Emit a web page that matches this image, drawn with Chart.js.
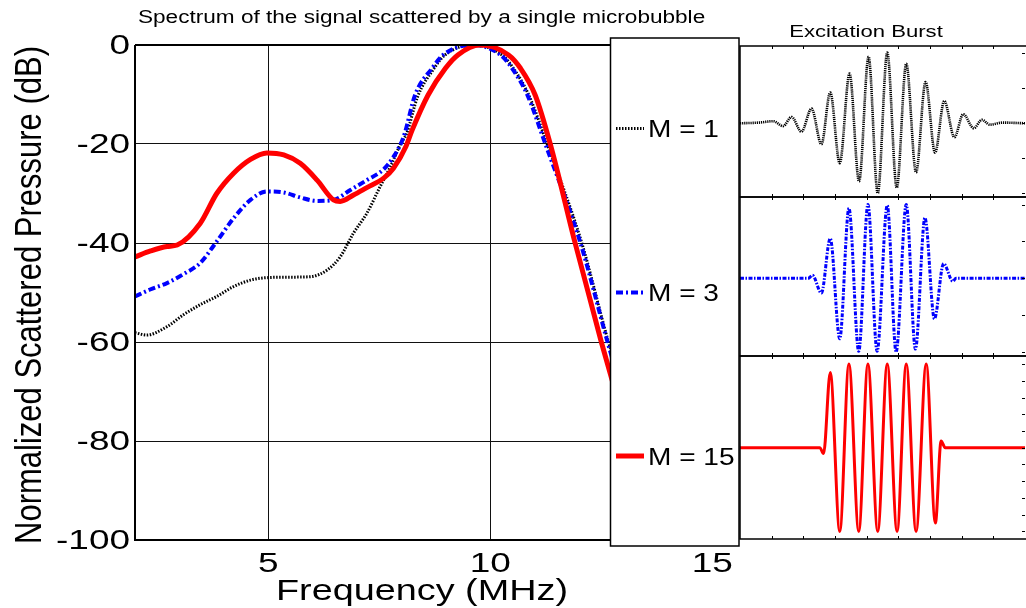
<!DOCTYPE html>
<html><head><meta charset="utf-8">
<script src="https://cdn.jsdelivr.net/npm/chart.js@4.4.1/dist/chart.umd.min.js"></script>
<style>
html,body{margin:0;padding:0;background:#fff;width:1026px;height:608px;overflow:hidden}
canvas{position:absolute;left:0;top:0}
</style></head><body>
<canvas id="main" width="1026" height="608"></canvas>
<canvas id="w1" width="1026" height="608"></canvas>
<canvas id="w2" width="1026" height="608"></canvas>
<canvas id="w3" width="1026" height="608"></canvas>
<script>
// ---------- spectrum data (frequency MHz, normalized dB) ----------
const freqM1 = [2.0, 2.26, 2.72, 3.09, 3.46, 3.84, 4.22, 4.6, 4.97, 5.5, 5.95, 6.32, 6.62, 6.92, 7.22, 7.52, 7.75, 7.97, 8.12, 8.36, 8.72, 8.97, 9.62, 10.26, 10.52, 10.86, 11.28, 12.06, 12.66, 12.8];
const dbM1   = [-58.1, -58.6, -56.9, -54.5, -52.5, -50.8, -48.8, -47.5, -47.0, -46.9, -46.8, -45.5, -42.8, -38.0, -34.0, -28.6, -24.6, -20.2, -17.8, -10.5, -4.9, -2.1, 0, -2, -4.7, -10, -20, -40, -60, -64];
const freqM3 = [2.0, 2.34, 2.72, 3.09, 3.46, 3.84, 4.22, 4.6, 4.97, 5.35, 5.72, 6.1, 6.47, 6.85, 7.22, 7.6, 7.82, 8.05, 8.31, 8.69, 8.94, 9.58, 10.23, 10.49, 10.83, 11.24, 12.03, 12.64, 12.8];
const dbM3   = [-50.8, -49.4, -48.1, -46.3, -44.1, -39.7, -35.0, -31.3, -29.6, -29.8, -30.8, -31.5, -31.3, -29.3, -27.3, -25.1, -22.6, -18.5, -10, -4.7, -2.0, 0, -2, -4.7, -10, -20, -40, -60, -65];
const freqM15 = [2.0, 2.35, 2.72, 2.95, 3.47, 3.84, 4.22, 4.6, 4.97, 5.35, 5.72, 6.1, 6.47, 6.62, 6.92, 7.22, 7.6, 7.82, 8.1, 8.24, 8.6, 8.99, 9.27, 9.77, 10.41, 10.68, 11.01, 11.35, 11.91, 12.5, 12.72, 12.85];
const dbM15   = [-42.8, -41.6, -40.7, -40.4, -36.0, -30.0, -25.9, -23.1, -21.8, -22.2, -23.9, -27.3, -31.3, -31.6, -30.3, -28.8, -26.9, -24.9, -20.5, -17.2, -10.1, -4.7, -2.0, 0, -2.0, -4.7, -10.1, -20, -40, -60, -67, -71];
const freqTicks = [5, 10, 15];
const dbTicks = [0, -20, -40, -60, -80, -100];
const seriesNames = ['M = 1', 'M = 3', 'M = 15'];

// ---------- excitation bursts (time in tick units, normalized amplitude) ----------
const tBurst1 = [0, 0.6, 1.05, 1.36, 1.63, 1.94, 2.26, 2.57, 2.85, 3.15, 3.46, 3.76, 4.06, 4.35, 4.65, 4.95, 5.25, 5.56, 5.86, 6.16, 6.45, 6.77, 7.05, 7.38, 7.64, 7.89, 8.3, 9];
const aBurst1 = [0, 0.01, 0.03, -0.04, 0.09, -0.12, 0.21, -0.30, 0.44, -0.57, 0.71, -0.83, 0.95, -1.0, 1.01, -0.92, 0.85, -0.70, 0.59, -0.42, 0.32, -0.20, 0.13, -0.07, 0.05, -0.02, 0.01, 0];
const tBurst3 = [0, 2.15, 2.29, 2.57, 2.85, 3.15, 3.44, 3.75, 4.04, 4.33, 4.65, 4.93, 5.25, 5.54, 5.84, 6.14, 6.43, 6.72, 6.82, 9];
const aBurst3 = [0, 0, 0.04, -0.20, 0.54, -0.82, 0.95, -0.99, 1.0, -0.99, 0.99, -1.0, 1.0, -0.96, 0.82, -0.55, 0.20, -0.04, 0, 0];
const tBurst15 = [0, 2.52, 2.64, 2.85, 3.15, 3.44, 3.75, 4.04, 4.35, 4.65, 4.96, 5.25, 5.56, 5.88, 6.17, 6.35, 6.48, 9];
const aBurst15 = [0, 0, -0.07, 0.90, -1.0, 1.0, -1.0, 1.0, -1.0, 1.0, -1.0, 1.0, -1.0, 1.0, -0.90, 0.08, 0, 0];
const burstTimeTicks = [1, 2, 3, 4, 5, 6, 7, 8];
const burstAmpTicks = [-1, -0.5, 0, 0.5, 1];
const burstAmpTicksFine = [-1, -0.8, -0.6, -0.4, -0.2, 0, 0.2, 0.4, 0.6, 0.8, 1];

const FONT = '"Liberation Sans", Arial, Helvetica, sans-serif';
function pts(xs, ys) { return xs.map((x, i) => ({x: x, y: ys[i]})); }
function txt(ctx, s, x, y, size, align, base, sx, rot) {
  ctx.save();
  ctx.translate(x, y);
  ctx.scale(sx, 1);
  if (rot) ctx.rotate(rot);
  ctx.font = size + 'px ' + FONT;
  ctx.fillStyle = '#000';
  ctx.textAlign = align;
  ctx.textBaseline = base;
  ctx.fillText(s, 0, 0);
  ctx.restore();
}
function zeroFit(s) { if (s.isHorizontal()) s.height = 0; else s.width = 0; }

const styles = [
  {color: '#000000', width: 3, dash: [1.5, 1.5]},
  {color: '#0000ff', width: 4, dash: [7, 3, 2, 3]},
  {color: '#ff0000', width: 5, dash: []}
];

const mainPlugin = {
  id: 'mainDeco',
  afterDraw(chart) {
    const ctx = chart.ctx, a = chart.chartArea;
    const xs = chart.scales.x, ys = chart.scales.y;
    ctx.save();
    ctx.strokeStyle = '#000'; ctx.lineWidth = 2;
    ctx.beginPath();
    ctx.moveTo(a.left, a.top); ctx.lineTo(a.right, a.top);
    ctx.moveTo(a.left, a.top); ctx.lineTo(a.left, a.bottom); ctx.lineTo(a.right, a.bottom);
    ctx.stroke();
    // legend box
    ctx.fillStyle = '#fff';
    ctx.fillRect(610.5, 38, 128.5, 508);
    ctx.lineWidth = 1.5;
    ctx.strokeRect(610.5, 38, 128.5, 508);
    const ly = [128.5, 292.5, 456], ty = [137, 301, 464.5];
    for (let i = 0; i < 3; i++) {
      const st = styles[i];
      ctx.beginPath();
      ctx.strokeStyle = st.color; ctx.lineWidth = st.width; ctx.setLineDash(st.dash);
      ctx.moveTo(616, ly[i]); ctx.lineTo(644, ly[i]); ctx.stroke();
      ctx.setLineDash([]);
      txt(ctx, seriesNames[i], 648, ty[i], 23, 'left', 'alphabetic', 1.22);
    }
    ctx.restore();
    // tick labels
    dbTicks.forEach(v => txt(ctx, String(v), 130, ys.getPixelForValue(v) + 1, 28, 'right', 'middle', 1.32));
    freqTicks.forEach(v => txt(ctx, String(v), xs.getPixelForValue(v), 572, 28, 'center', 'alphabetic', 1.32));
    // titles
    txt(ctx, 'Frequency (MHz)', 422, 600, 30, 'center', 'alphabetic', 1.26);
    txt(ctx, 'Normalized Scattered Pressure (dB)', 41, 295, 31, 'center', 'alphabetic', 1.22, -Math.PI / 2);
    txt(ctx, 'Spectrum of the signal scattered by a single microbubble', 138, 23, 17.5, 'left', 'alphabetic', 1.29);
  }
};

new Chart(document.getElementById('main'), {
  type: 'line',
  data: {
    datasets: [
      {label: seriesNames[0], data: pts(freqM1, dbM1), borderColor: styles[0].color, borderWidth: styles[0].width, borderDash: styles[0].dash, order: 3},
      {label: seriesNames[1], data: pts(freqM3, dbM3), borderColor: styles[1].color, borderWidth: styles[1].width, borderDash: styles[1].dash, order: 2},
      {label: seriesNames[2], data: pts(freqM15, dbM15), borderColor: styles[2].color, borderWidth: styles[2].width, borderDash: styles[2].dash, order: 1}
    ]
  },
  options: {
    responsive: false, animation: false, devicePixelRatio: 1, events: [],
    layout: {padding: {left: 135, right: 287, top: 45, bottom: 68}},
    elements: {point: {radius: 0}, line: {cubicInterpolationMode: 'monotone', fill: false}},
    plugins: {legend: {display: false}, tooltip: {enabled: false}, title: {display: false}},
    scales: {
      x: {type: 'linear', min: 2, max: 15.6, afterBuildTicks: s => { s.ticks = freqTicks.map(v => ({value: v})); }, afterFit: zeroFit,
          ticks: {display: false}, grid: {color: '#111', lineWidth: 1, drawTicks: false}, border: {display: false}},
      y: {type: 'linear', min: -100, max: 0, afterBuildTicks: s => { s.ticks = dbTicks.map(v => ({value: v})); }, afterFit: zeroFit,
          ticks: {display: false}, grid: {color: '#111', lineWidth: 1, drawTicks: false}, border: {display: false}}
    }
  },
  plugins: [mainPlugin]
});

function burst(id, ts, as, top, bottom, ymin, ymax, yt, st, title) {
  const plug = {
    id: 'bd' + id,
    afterDraw(chart) {
      const ctx = chart.ctx, a = chart.chartArea, xs = chart.scales.x, ys = chart.scales.y;
      ctx.save();
      ctx.strokeStyle = '#000'; ctx.lineWidth = 1.5;
      ctx.strokeRect(a.left, a.top, a.right - a.left + 2, a.bottom - a.top);
      ctx.lineWidth = 1;
      ctx.beginPath();
      burstTimeTicks.forEach(v => {
        const x = Math.round(xs.getPixelForValue(v)) + 0.5;
        ctx.moveTo(x, a.top); ctx.lineTo(x, a.top + 3);
        ctx.moveTo(x, a.bottom); ctx.lineTo(x, a.bottom - 3);
      });
      yt.forEach(v => {
        const y = Math.round(ys.getPixelForValue(v)) + 0.5;
        ctx.moveTo(a.right, y); ctx.lineTo(a.right - 3, y);
      });
      ctx.stroke();
      ctx.restore();
      if (title) txt(ctx, title, 866, 37, 17, 'center', 'alphabetic', 1.3);
    }
  };
  new Chart(document.getElementById(id), {
    type: 'line',
    data: {datasets: [{data: pts(ts, as), borderColor: st.color, borderWidth: st.width, borderDash: st.dash}]},
    options: {
      responsive: false, animation: false, devicePixelRatio: 1, events: [],
      layout: {padding: {left: 740, right: 1, top: top, bottom: 608 - bottom}},
      elements: {point: {radius: 0}, line: {cubicInterpolationMode: 'monotone', fill: false}},
      plugins: {legend: {display: false}, tooltip: {enabled: false}},
      scales: {
        x: {type: 'linear', min: 0, max: 9, afterFit: zeroFit, ticks: {display: false}, grid: {display: false}, border: {display: false}},
        y: {type: 'linear', min: ymin, max: ymax, afterFit: zeroFit, ticks: {display: false}, grid: {display: false}, border: {display: false}}
      }
    },
    plugins: [plug]
  });
}
burst('w1', tBurst1, aBurst1, 46, 197, -1.053, 1.104, burstAmpTicks, {color: '#000', width: 2.6, dash: [1.2, 0.9]}, 'Excitation Burst');
burst('w2', tBurst3, aBurst3, 197, 356, -1.054, 1.103, burstAmpTicks, {color: '#0000ff', width: 3, dash: [4, 1.5, 1.5, 1.5]}, null);
burst('w3', tBurst15, aBurst15, 356, 539, -1.091, 1.096, burstAmpTicksFine, {color: '#ff0000', width: 3, dash: []}, null);
</script>
</body></html>
